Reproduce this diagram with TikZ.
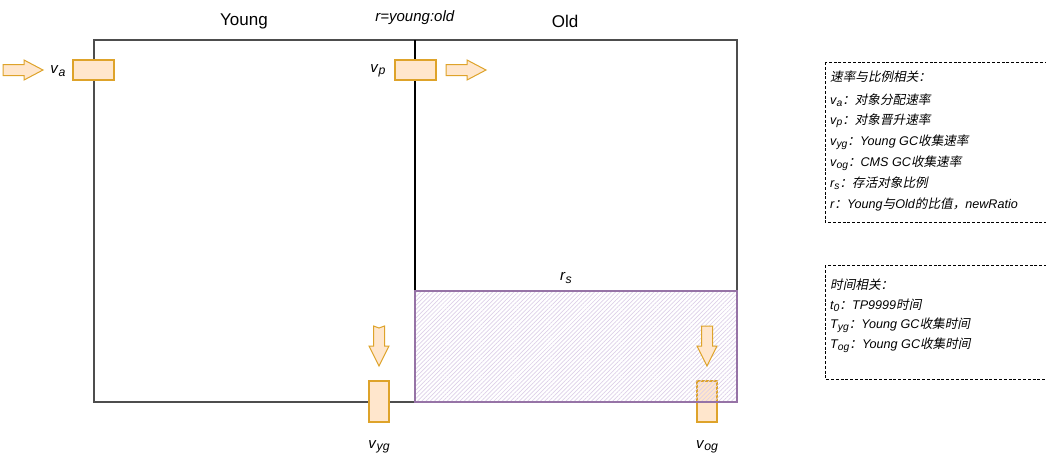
\documentclass[tikz,border=0pt]{standalone}
\usepackage{fontspec}
\setmainfont{Liberation Sans}
\newfontfamily\cjk[FakeSlant=0.2]{Noto Sans CJK SC}
\usetikzlibrary{patterns.meta}
\definecolor{ofill}{HTML}{FFE6CC}
\definecolor{ostroke}{HTML}{DEA32A}
\definecolor{pstroke}{HTML}{9673A6}
\definecolor{phatch}{HTML}{DDD0E8}
\definecolor{frame}{HTML}{4D4D4D}
\newcommand{\vsub}[2]{\textit{#1}\raisebox{-0.3ex}{\scalebox{0.82}{\textit{#2}}}}
\begin{document}
\begin{tikzpicture}[x=1pt,y=-1pt,
  obox/.style={draw=ostroke,fill=ofill,line width=1.1pt},
  barrow/.style={draw=ostroke,fill=ofill,line width=1pt,line join=miter},
  big/.style={font=\fontsize{17}{20}\selectfont},
  mid/.style={font=\fontsize{15}{18}\selectfont},
  leg/.style={anchor=base west,inner sep=0pt,font=\fontsize{12.6}{14}\selectfont\itshape},
  legbox/.style={draw=black,dash pattern=on 3pt off 1.8pt,line width=1pt}]
\clip (0,0) rectangle (1046,458);
% outer frame
\draw[frame,line width=1.2pt] (94,40) rectangle (737,402);
\coordinate (divtop) at (415,40);
\coordinate (divbot) at (415,291);
\draw[black,line width=1.1pt] (divtop) -- (divbot);
% titles
\node[big] (young) at (244,21) {Young};
\node[big] (old) at (565,21) {Old};
\node[mid] (ratio) at (415,18) {\textit{r=young:old}};
\node[mid] (rs) at (566,278) {\vsub{r}{s}};
% boxes
\draw[obox] (73,60) rectangle (114,80);
\draw[obox] (395,60) rectangle (436,80);
\draw[obox] (369,381) rectangle (389,422);
\draw[obox] (697,381) rectangle (717,422);
% hatched survivor area (drawn over the v_og box)
\path[pattern={Lines[angle=45,distance=3pt,line width=0.7pt]},pattern color=phatch] (415,291) rectangle (737,402);
\draw[pstroke,line width=1.5pt] (415,291) rectangle (737,402);
\node[mid] (va) at (58,71) {\vsub{v}{a}};
\node[mid] (vp) at (378,71) {\vsub{v}{p}};
\node[mid] (vyg) at (379,447) {\vsub{v}{yg}};
\node[mid] (vog) at (707,447) {\vsub{v}{og}};
% block arrows
\draw[barrow] (3,64.5) -- (24,64.5) -- (24,60) -- (43,70) -- (24,80) -- (24,75.5) -- (3,75.5) -- cycle;
\draw[barrow] (446,64.5) -- (467,64.5) -- (467,60) -- (486,70) -- (467,80) -- (467,75.5) -- (446,75.5) -- cycle;
\draw[barrow] (373.5,326) -- (379,328) -- (384.5,326) -- (384.5,346) -- (389,346) -- (379,366) -- (369,346) -- (373.5,346) -- cycle;
\draw[barrow] (701.5,326) -- (712.5,326) -- (712.5,346) -- (717,346) -- (707,366) -- (697,346) -- (701.5,346) -- cycle;
% legend 1
\draw[legbox] (825,62) rectangle (1050,222);
\node[leg] (l1) at (830,81) {\cjk 速率与比例相关：};
\node[leg] (l2) at (830,104) {\vsub{v}{a}\cjk：对象分配速率};
\node[leg] (l3) at (830,124) {\vsub{v}{p}\cjk：对象晋升速率};
\node[leg] (l4) at (830,145) {\vsub{v}{yg}{\cjk：}Young GC{\cjk 收集速率}};
\node[leg] (l5) at (830,166) {\vsub{v}{og}{\cjk：}CMS GC{\cjk 收集速率}};
\node[leg] (l6) at (830,187) {\vsub{r}{s}\cjk：存活对象比例};
\node[leg] (l7) at (830,208) {r{\cjk：}Young{\cjk 与}Old{\cjk 的比值，}newRatio};
% legend 2
\draw[legbox] (825,265) rectangle (1050,379);
\node[leg] (m1) at (830,289) {\cjk 时间相关：};
\node[leg] (m2) at (830,309) {\vsub{t}{0}{\cjk：}TP9999{\cjk 时间}};
\node[leg] (m3) at (830,328) {\vsub{T}{yg}{\cjk：}Young GC{\cjk 收集时间}};
\node[leg] (m4) at (830,348) {\vsub{T}{og}{\cjk：}Young GC{\cjk 收集时间}};
\end{tikzpicture}
\end{document}
